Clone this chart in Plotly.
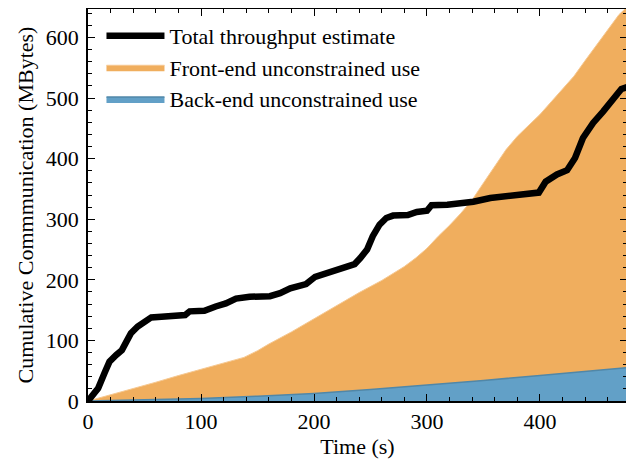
import plotly.graph_objects as go

# ---- data ----
t_total = [0, 3, 9, 15, 19, 25, 30, 34, 38, 44, 50, 56, 65, 75, 86, 90, 103, 113, 122, 131,
           143, 161, 170, 179, 188, 193, 201, 208, 217, 226, 232, 236, 241, 247, 252, 258,
           264, 270, 283, 291, 300, 304, 318, 335, 341, 356, 374, 399, 405, 412, 415, 424,
           431, 438, 447, 456, 465, 472, 477]
v_total = [0, 8, 21, 48, 65, 76, 84, 98, 112, 123, 131, 138, 139, 140, 142, 148, 149, 156, 161, 169,
           172, 173, 178, 186, 192, 193, 205, 209, 215, 220, 225, 226, 236, 250, 272, 291,
           302, 306, 307, 312, 314, 323, 324, 327, 329, 335, 338, 344, 362, 371, 374, 381,
           401, 434, 459, 478, 500, 515, 518]

t_front = [0, 20, 40, 60, 80, 100, 120, 138, 150, 160, 180, 200, 220, 240, 260, 280, 290, 300,
           310, 320, 330, 340, 350, 360, 370, 380, 390, 400, 410, 420, 430, 440, 450, 460, 470, 477]
v_front = [0, 10, 21, 31, 42, 52, 62, 72, 83, 94, 114, 136, 157, 179, 199, 222, 236, 252,
           272, 290, 310, 332, 360, 388, 415, 437, 455, 473, 494, 515, 536, 562, 588, 614, 638, 650]

t_back = [0, 50, 100, 150, 200, 250, 300, 350, 400, 450, 477]
v_back = [0, 1.5, 4, 8, 12.5, 19, 26, 34, 42, 50, 55]

x_range = [0, 477]
y_range = [0, 647]

FONT = "Liberation Serif, Times New Roman, serif"

fig = go.Figure()
fig.add_trace(go.Scatter(
    x=t_front, y=v_front, mode="lines", fill="tozeroy",
    fillcolor="rgb(240,174,94)", line=dict(color="rgb(246,200,145)", width=1),
    name="Front-end unconstrained use", legendrank=2))
fig.add_trace(go.Scatter(
    x=t_back, y=v_back, mode="lines", fill="tozeroy",
    fillcolor="rgb(98,160,199)", line=dict(color="rgb(80,135,168)", width=1.5),
    name="Back-end unconstrained use", legendrank=3))
fig.add_trace(go.Scatter(
    x=t_total, y=v_total, mode="lines",
    line=dict(color="black", width=6.5),
    name="Total throughput estimate", legendrank=1))

axis_common = dict(
    showgrid=False, zeroline=False, showline=True, linecolor="black", linewidth=1.5,
    mirror="allticks", ticks="inside", ticklen=7, tickwidth=1.2, tickcolor="black",
    tickfont=dict(family=FONT, size=22, color="black"), automargin=False,
    minor=dict(ticks="inside", ticklen=4, tickwidth=1, tickcolor="black", dtick=20),
)

fig.update_xaxes(range=x_range, dtick=100, tick0=0,
                 title=dict(text="Time (s)", font=dict(family=FONT, size=22, color="black"), standoff=4),
                 **axis_common)
fig.update_yaxes(range=y_range, dtick=100, tick0=0, ticklabelstandoff=3,
                 title=dict(text="Cumulative Commmunication (MBytes)", font=dict(family=FONT, size=22, color="black"), standoff=6),
                 **axis_common)

# the page body adds an 8px offset, so the figure is sized to fit the window after it
fig.update_layout(
    width=626, height=453,
    margin=dict(l=80, r=7, t=1, b=60, autoexpand=False),
    plot_bgcolor="white", paper_bgcolor="white",
    font=dict(family=FONT, size=22, color="black"),
    legend=dict(x=0.025, y=0.985, xanchor="left", yanchor="top",
                bgcolor="rgba(0,0,0,0)", font=dict(family=FONT, size=22, color="black"),
                tracegroupgap=0, itemwidth=58),
    showlegend=True,
)

fig.write_html("out.html")
